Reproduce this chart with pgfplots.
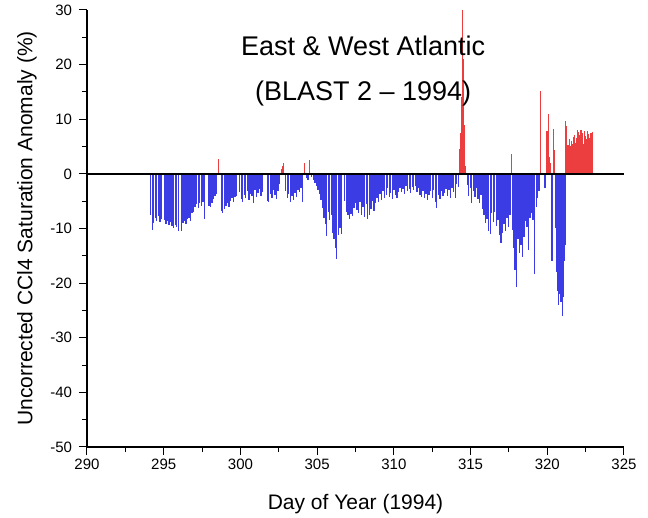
\documentclass[border=0pt]{standalone}
\usepackage{fontspec}
\setmainfont{Liberation Sans}
\usepackage{pgfplots}
\pgfplotsset{compat=1.18}
\definecolor{barblue}{RGB}{60,60,228}
\definecolor{barred}{RGB}{236,62,62}
\begin{document}
\begin{tikzpicture}
\begin{axis}[
  at={(0,0)}, anchor=south west,
  scale only axis, width=537pt, height=437pt,
  xmin=290, xmax=325, ymin=-50, ymax=30,
  axis x line*=bottom, axis y line*=left,
  axis line style={line width=1.1pt},
  tick align=outside,
  major tick length=8pt, minor tick length=5pt,
  every tick/.style={black, line width=1pt},
  xtick={290,295,...,325}, ytick={-50,-40,...,30},
  minor x tick num=1, minor y tick num=1,
  /pgf/number format/assume math mode=true,
  /pgf/number format/1000 sep={},
  tick label style={font=\fontsize{15}{18}\selectfont},
  yticklabel style={xshift=-3.5pt},
  xlabel={Day of Year (1994)},
  ylabel={Uncorrected CCl4 Saturation Anomaly (\%)},
  every axis x label/.style={at={(axis description cs:0.5,0)}, yshift=-63pt, anchor=base, font=\fontsize{21}{25}\selectfont},
  every axis y label/.style={at={(axis description cs:0,0.5)}, xshift=-60pt, rotate=90, anchor=center, font=\fontsize{21}{25}\selectfont},
]
% negative anomalies (blue)
\addplot[ycomb, color=barblue, line width=1.35pt, mark=none] coordinates {
(294.15,-7.5) (294.25,-10.3) (294.35,-9.0) (294.45,-8.0) (294.55,-8.6) (294.65,-7.8) (294.75,-8.8) (294.85,-8.2)
(295.05,-8.5) (295.15,-9.2) (295.25,-8.7) (295.35,-9.4) (295.45,-8.9) (295.55,-9.6) (295.65,-9.9) (295.75,-9.3) (295.85,-9.8) (295.95,-10.4)
(296.15,-10.5) (296.25,-9.0) (296.35,-8.6) (296.45,-9.2) (296.55,-8.3) (296.65,-8.0) (296.75,-8.6) (296.85,-7.2) (296.95,-6.9)
(297.05,-6.0) (297.15,-5.6) (297.25,-6.2) (297.35,-5.4) (297.45,-5.9) (297.55,-5.2) (297.65,-8.2)
(297.95,-5.8) (298.05,-6.0) (298.15,-5.3) (298.25,-4.6) (298.35,-4.0) (298.45,-3.6)
(298.75,-6.8) (298.85,-7.1) (298.95,-6.5) (299.05,-5.8) (299.15,-5.4) (299.25,-6.0) (299.35,-5.0) (299.45,-4.4) (299.55,-5.2) (299.65,-4.3) (299.75,-4.0)
(299.95,-3.4) (300.05,-4.6) (300.15,-5.2) (300.25,-3.8) (300.35,-4.4) (300.45,-3.2) (300.55,-4.8) (300.65,-3.7) (300.75,-4.1) (300.85,-5.3) (300.95,-3.0)
(301.05,-4.2) (301.15,-3.5) (301.25,-2.8) (301.35,-4.0) (301.45,-3.3)
(301.75,-4.9) (301.85,-5.2) (301.95,-3.6) (302.05,-4.4) (302.15,-2.9) (302.25,-3.8) (302.35,-4.6) (302.45,-3.1) (302.55,-1.8)
(302.95,-3.2) (303.05,-4.5) (303.15,-3.7) (303.25,-5.1) (303.35,-4.0) (303.45,-4.7) (303.55,-3.5) (303.65,-4.2) (303.75,-2.9) (303.85,-3.3) (303.95,-2.6) (304.05,-5.2)
(304.3,-0.8) (304.4,-1.2)
(304.65,-0.6) (304.75,-1.2) (304.85,-1.6) (304.95,-2.2) (305.05,-3.0) (305.15,-3.6) (305.25,-4.8) (305.35,-6.3) (305.45,-8.0) (305.55,-9.2) (305.62,-11.4)
(305.72,-7.0) (305.82,-8.4) (305.92,-7.6) (306.0,-10.8) (306.1,-12.0) (306.2,-13.5) (306.28,-15.5) (306.38,-11.2) (306.48,-10.0) (306.58,-11.0)
(306.8,-5.0) (306.9,-7.0) (307.0,-7.5) (307.1,-8.2) (307.2,-7.3) (307.3,-7.8) (307.4,-6.2) (307.5,-5.4) (307.6,-6.6) (307.7,-7.2) (307.8,-5.2) (307.9,-7.6)
(308.0,-6.0) (308.1,-7.9) (308.2,-5.6) (308.3,-8.2) (308.4,-7.6) (308.5,-6.4) (308.6,-5.0) (308.7,-6.8) (308.8,-5.4) (308.9,-4.4)
(309.0,-5.2) (309.1,-3.6) (309.2,-4.8) (309.3,-3.2) (309.4,-4.5) (309.5,-3.8) (309.6,-2.6) (309.7,-4.2) (309.8,-3.5) (309.9,-4.6)
(310.0,-3.0) (310.1,-3.9) (310.2,-4.4) (310.3,-3.3) (310.4,-2.5) (310.5,-3.4) (310.6,-2.7) (310.7,-3.6) (310.8,-2.3) (310.9,-3.1)
(311.0,-2.8) (311.1,-3.5) (311.2,-2.4) (311.3,-3.0) (311.4,-2.2) (311.5,-3.3) (311.6,-2.6) (311.7,-3.8) (311.8,-4.2) (311.9,-3.1)
(312.0,-4.5) (312.1,-3.6) (312.2,-4.8) (312.3,-3.9) (312.4,-3.2) (312.5,-4.4) (312.6,-3.0) (312.7,-5.1) (312.8,-6.2) (312.9,-3.8)
(313.0,-4.6) (313.1,-3.2) (313.2,-4.1) (313.3,-3.5) (313.4,-2.8) (313.5,-4.0) (313.6,-3.0) (313.7,-4.4) (313.8,-2.6) (313.9,-3.4)
(314.0,-4.4) (314.1,-1.8) (314.2,-2.4)
(314.78,-2.0) (314.88,-4.0) (314.98,-2.6) (315.08,-5.4) (315.18,-3.2) (315.28,-4.2) (315.38,-2.6) (315.48,-4.6) (315.58,-5.3) (315.68,-3.8)
(315.78,-6.4) (315.88,-7.6) (315.98,-9.0) (316.08,-8.2) (316.18,-10.4) (316.28,-11.0) (316.38,-7.2) (316.48,-8.8) (316.58,-7.0) (316.68,-9.6)
(316.78,-8.4) (316.88,-11.2) (316.98,-12.6) (317.08,-10.8) (317.18,-9.2) (317.28,-10.4) (317.38,-8.0) (317.48,-9.8) (317.58,-7.6)
(317.72,-10.2) (317.82,-13.5) (317.9,-17.6) (317.98,-20.8) (318.08,-12.0) (318.18,-14.5) (318.28,-13.0) (318.38,-15.2) (318.48,-11.6)
(318.58,-8.6) (318.68,-9.8) (318.78,-14.0) (318.88,-8.0) (318.98,-7.2) (319.08,-8.4) (319.18,-18.3) (319.28,-6.0) (319.38,-4.5) (319.46,-3.2)
(319.85,-2.6) (320.3,-16.0)
(320.55,-10.0) (320.6,-18.0) (320.65,-20.5) (320.7,-21.5) (320.75,-24.0) (320.8,-22.0) (320.85,-19.5) (320.9,-23.5) (320.95,-21.0)
(321.0,-26.0) (321.05,-22.5) (321.1,-16.0) (321.15,-13.0)
};
% positive anomalies (red)
\addplot[ycomb, color=barred, line width=1.1pt, mark=none] coordinates {
(298.6,2.7) (302.65,0.8) (302.72,1.5) (302.8,1.9) (304.15,1.9) (304.2,1.2) (304.52,2.6)
(314.28,4.5) (314.33,7.5) (314.38,10.0) (314.43,14.0) (314.48,30.0) (314.53,21.0) (314.58,9.0) (314.63,3.0) (314.68,1.5)
(317.65,3.6) (319.53,15.2) (319.58,12.0)
(319.98,7.9) (320.05,11.0) (320.12,3.0) (320.18,2.0) (320.4,8.2) (320.45,4.3)
(321.2,9.7) (321.25,8.8) (321.3,4.0) (321.35,5.2) (321.4,4.3) (321.45,6.3) (321.5,5.1) (321.55,4.6) (321.6,6.0) (321.65,5.4)
(321.7,6.8) (321.75,5.0) (321.8,7.1) (321.85,5.7) (321.9,6.5) (321.95,8.0) (322.0,6.2) (322.05,7.6) (322.1,7.2) (322.15,5.8)
(322.2,8.0) (322.25,6.5) (322.3,7.4) (322.35,5.5) (322.4,7.8) (322.45,6.0) (322.5,7.0) (322.55,6.4) (322.6,7.9) (322.65,5.2)
(322.7,7.3) (322.75,6.6) (322.8,6.0) (322.85,7.5) (322.9,5.8) (322.95,7.7)
};
% zero line
\addplot[black, line width=1.3pt, mark=none] coordinates {(290,0) (325,0)};
\node[anchor=base, font=\fontsize{27}{32}\selectfont] at (axis cs:308,21.6) {East \& West Atlantic};
\node[anchor=base, font=\fontsize{27}{32}\selectfont] at (axis cs:308,13.5) {(BLAST 2 – 1994)};
\end{axis}
\pgfresetboundingbox
\path[use as bounding box] (-87pt,-71pt) rectangle (561pt,447pt);
\end{tikzpicture}
\end{document}
